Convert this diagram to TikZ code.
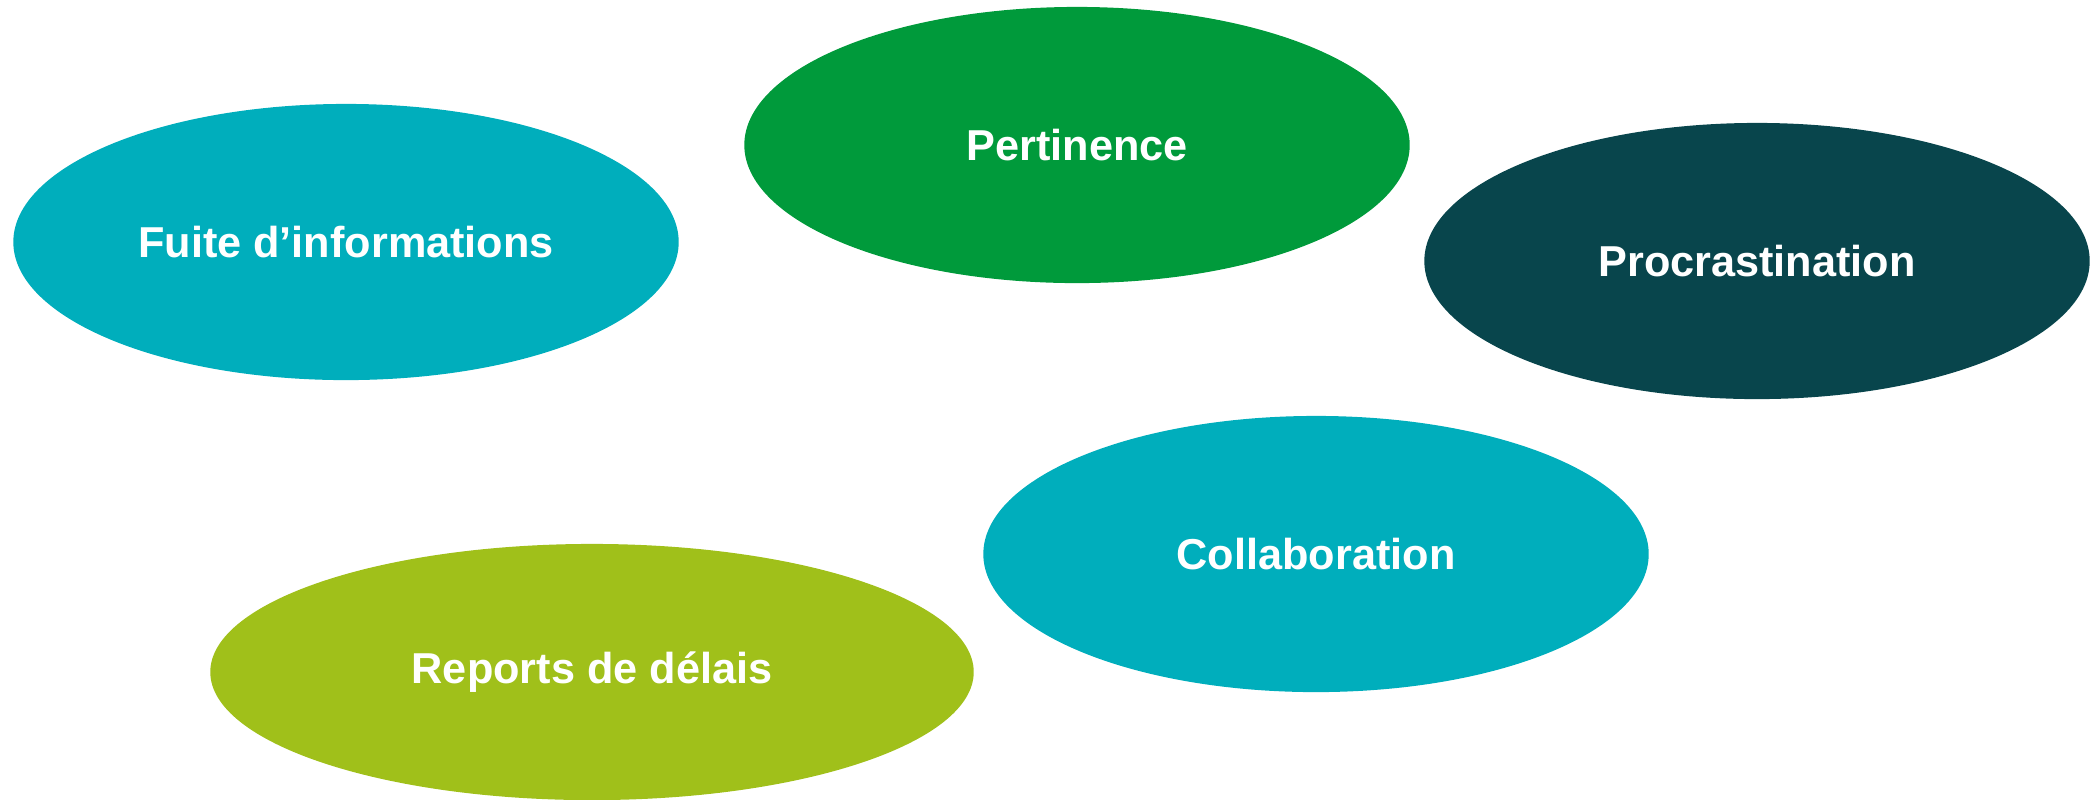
\documentclass[tikz,border=0pt]{standalone}
\usepackage{fontspec}
\setmainfont{Liberation Sans}
\usetikzlibrary{shapes.geometric}

\definecolor{tealblob}{RGB}{0,174,188}
\definecolor{greenblob}{RGB}{0,154,59}
\definecolor{darkblob}{RGB}{8,69,76}
\definecolor{oliveblob}{RGB}{160,192,26}

\tikzset{
    blob/.style={ellipse, inner sep=0pt, minimum width=6.65cm, minimum height=2.76cm,
        text=white, font=\fontsize{12.3}{14}\selectfont\bfseries},
}

\begin{document}
\begin{tikzpicture}[x=0.01cm, y=-0.01cm]
\useasboundingbox (0,0) rectangle (2092,799);
% top row
\node[blob, fill=tealblob] (fuite) at (346,242) {Fuite d’informations};
\node[blob, fill=greenblob] (pertinence) at (1077,145) {Pertinence};
\node[blob, fill=darkblob] (procrast) at (1757,261) {Procrastination};
% bottom row
\node[blob, fill=tealblob] (collab) at (1316,554) {Collaboration};
\node[blob, fill=oliveblob, minimum width=7.63cm, minimum height=2.56cm] (reports) at (592,672) {Reports de délais};
\end{tikzpicture}
\end{document}
